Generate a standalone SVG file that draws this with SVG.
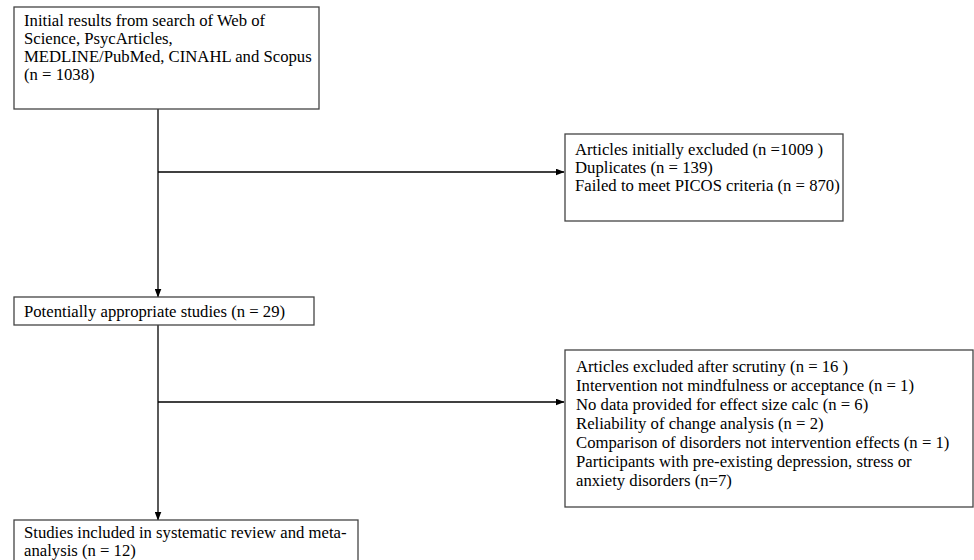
<svg xmlns="http://www.w3.org/2000/svg" width="974" height="560" viewBox="0 0 974 560">
<style>
.box{fill:#fff;stroke:#444;stroke-width:1.3}
.t{font-family:"Liberation Serif","Times New Roman",serif;font-size:16.7px;fill:#000}
.c{stroke:#000;stroke-width:1.3;fill:none}
</style>
<defs>
<marker id="ah" markerWidth="9" markerHeight="7" refX="8.5" refY="3.5" orient="auto" markerUnits="userSpaceOnUse">
<path d="M0,0 L9,3.5 L0,7 Z" fill="#000"/>
</marker>
</defs>
<rect width="974" height="560" fill="#fff"/>
<g id="connectors">
<line class="c" x1="158" y1="109" x2="158" y2="297" marker-end="url(#ah)"/>
<line class="c" x1="158" y1="172" x2="564" y2="172" marker-end="url(#ah)"/>
<line class="c" x1="158" y1="325" x2="158" y2="520" marker-end="url(#ah)"/>
<line class="c" x1="158" y1="402" x2="564" y2="402" marker-end="url(#ah)"/>
</g>
<g id="n1">
<rect class="box" x="14" y="7" width="305" height="102"/>
<text class="t" x="24" y="26">Initial results from search of Web of</text>
<text class="t" x="24" y="44">Science, PsycArticles,</text>
<text class="t" x="24" y="62">MEDLINE/PubMed, CINAHL and Scopus</text>
<text class="t" x="24" y="80">(n = 1038)</text>
</g>
<g id="n2">
<rect class="box" x="565" y="134" width="278" height="87"/>
<text class="t" x="575" y="155">Articles initially excluded (n =1009 )</text>
<text class="t" x="575" y="173">Duplicates (n = 139)</text>
<text class="t" x="575" y="191">Failed to meet PICOS criteria (n = 870)</text>
</g>
<g id="n3">
<rect class="box" x="14" y="297" width="300" height="28"/>
<text class="t" x="24" y="317">Potentially appropriate studies (n = 29)</text>
</g>
<g id="n4">
<rect class="box" x="565" y="350" width="408" height="157"/>
<text class="t" x="576" y="372">Articles excluded after scrutiny (n = 16 )</text>
<text class="t" x="576" y="391">Intervention not mindfulness or acceptance (n = 1)</text>
<text class="t" x="576" y="410">No data provided for effect size calc (n = 6)</text>
<text class="t" x="576" y="429">Reliability of change analysis (n = 2)</text>
<text class="t" x="576" y="448">Comparison of disorders not intervention effects (n = 1)</text>
<text class="t" x="576" y="467">Participants with pre-existing depression, stress or</text>
<text class="t" x="576" y="486">anxiety disorders (n=7)</text>
</g>
<g id="n5">
<rect class="box" x="14" y="520" width="344" height="60"/>
<text class="t" x="24" y="538">Studies included in systematic review and meta-</text>
<text class="t" x="24" y="556">analysis (n = 12)</text>
</g>
</svg>
